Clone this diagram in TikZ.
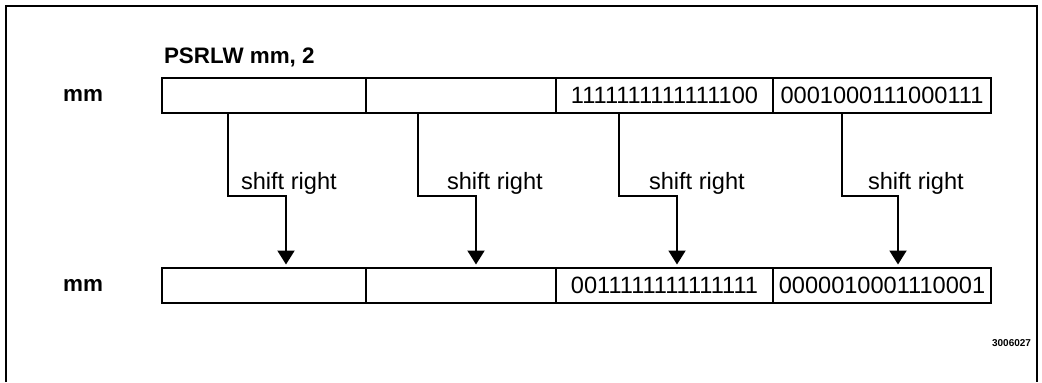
\documentclass[tikz,border=0pt]{standalone}
\usepackage{fontspec}
\setmainfont{Liberation Sans}
\usetikzlibrary{arrows.meta, calc, positioning}

\begin{document}
\begin{tikzpicture}[x=0.5pt, y=-0.5pt, line width=1pt, >={Triangle[width=8.5pt, length=7pt]}]

    % Define styles
    \tikzset{
        frameline/.style={black, line width=1pt},
        cell/.style={draw, line width=1pt, minimum height=17.5pt, inner sep=0pt, outer sep=0pt, font=\fontsize{11.8}{14}\selectfont},
        reglabel/.style={inner sep=0pt, font=\bfseries\fontsize{11.2}{13}\selectfont},
        shiftarrow/.style={->, line width=1pt, shorten >=1.5pt},
        shiftlabel/.style={inner sep=0pt, anchor=base west, font=\fontsize{11.8}{14}\selectfont},
        figid/.style={inner sep=0pt, anchor=east, font=\bfseries\fontsize{5}{6}\selectfont}
    }

    % 1. Page and frame
    \useasboundingbox (0,0) rectangle (1042,382);
    \draw[frameline] (6,382) -- (6,6) -- (1037,6) -- (1037,382);

    % 2. Source register
    \node[reglabel, anchor=base west] (title) at (163,63) {PSRLW mm, 2};
    \node[cell, minimum width=102pt] (src1) at (264,95.5) {};
    \node[cell, minimum width=95pt, right=0pt of src1] (src2) {};
    \node[cell, minimum width=108.5pt, right=0pt of src2] (src3) {1111111111111100};
    \node[cell, minimum width=109pt, right=0pt of src3] (src4) {0001000111000111};
    \node[reglabel, left=29pt of src1] (srcname) {mm};

    % 3. Destination register
    \node[cell, minimum width=102pt] (dst1) at (264,285) {};
    \node[cell, minimum width=95pt, right=0pt of dst1] (dst2) {};
    \node[cell, minimum width=108.5pt, right=0pt of dst2] (dst3) {0011111111111111};
    \node[cell, minimum width=109pt, right=0pt of dst3] (dst4) {0000010001110001};
    \node[reglabel, left=29pt of dst1] (dstname) {mm};

    % 4. Shift arrows (offset out, offset in, label x)
    \foreach \i/\a/\b/\lx in {1/-36/22/240, 2/-43/15/446, 3/-45.5/12.5/648, 4/-40/16/867} {
        \draw[shiftarrow] ($(src\i.south)+(\a,0)$) -- ++(0,83) -| ($(dst\i.north)+(\b,0)$);
        \node[shiftlabel] (lbl\i) at (\lx,189) {shift right};
    }

    % 5. Figure number
    \node[figid] (figno) at (1032,343) {3006027};

\end{tikzpicture}
\end{document}
